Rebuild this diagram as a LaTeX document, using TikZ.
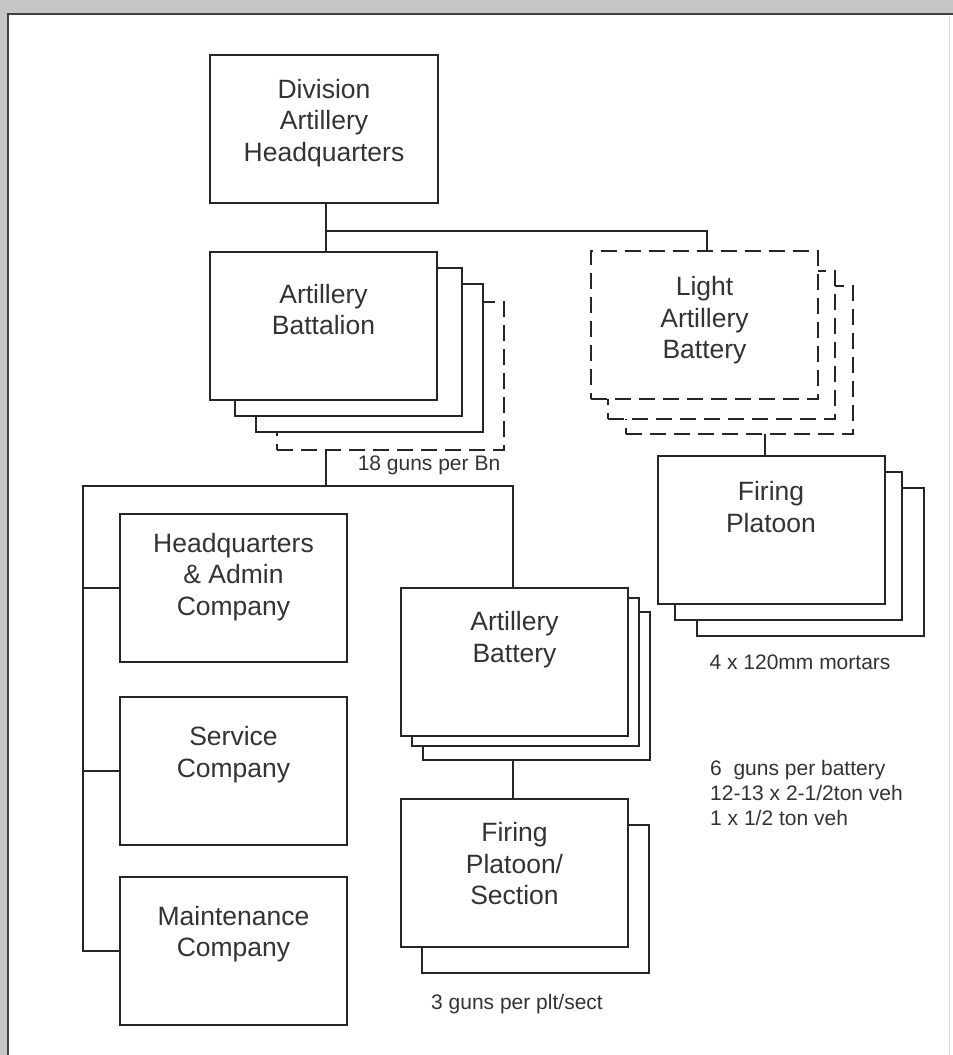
\documentclass[tikz,border=0pt]{standalone}
\usepackage{fontspec}
\setmainfont{Liberation Sans}
\begin{document}
\begin{tikzpicture}[x=1pt,y=-1pt,
  box/.style={draw=black!85,line width=2pt,fill=white,minimum width=227pt,minimum height=148pt,inner sep=0pt,outer sep=0pt},
  dbox/.style={box,dash pattern=on 16pt off 8pt},
  lbl/.style={anchor=north,align=center,inner sep=0pt,font=\fontsize{26.5}{31.5}\selectfont,text=black!80},
  note/.style={inner sep=0pt,font=\fontsize{21}{25}\selectfont,text=black!80},
  conn/.style={draw=black!85,line width=2pt}]
\useasboundingbox (0,0) rectangle (953,1055);
% page frame
\fill[gray!45] (0,0) rectangle (953,1055);
\fill[white] (8,14) rectangle (953,1055);
\draw[black!75,line width=2.5pt] (8,1055) -- (8,14) -- (953,14);
\draw[gray!25,line width=0.8pt] (949,16) -- (949,1055);

% Division HQ
\node[box,minimum width=228pt] (div) at (324,129) {};
\node[lbl,yshift=-24pt] (divT) at (div.north) {Division\\Artillery\\Headquarters};

% Artillery Battalion stack
\node[dbox] (bn4) at (390.5,375.5) {};
\node[box] (bn3) at (369,357.5) {};
\node[box] (bn2) at (348,341.5) {};
\node[box] (bn1) at (323.5,326) {};
\node[lbl,yshift=-32pt] (bnT) at (bn1.north) {Artillery\\Battalion};

% Light Artillery Battery stack
\node[dbox] (lab3) at (739.5,359.5) {};
\node[dbox] (lab2) at (721.5,345) {};
\node[dbox] (lab1) at (704.5,324.5) {};
\node[lbl,yshift=-26pt] (labT) at (lab1.north) {Light\\Artillery\\Battery};

% Firing Platoon stack (mortars)
\node[box] (fp3) at (810,561.5) {};
\node[box] (fp2) at (788.5,545.5) {};
\node[box] (fp1) at (771,529.5) {};
\node[lbl,yshift=-26pt] (fpT) at (fp1.north) {Firing\\Platoon};

% Artillery Battery stack
\node[box] (ab3) at (536.5,685.5) {};
\node[box] (ab2) at (525,671.5) {};
\node[box] (ab1) at (514.5,661.5) {};
\node[lbl,yshift=-24pt] (abT) at (ab1.north) {Artillery\\Battery};

% Firing Platoon/Section stack
\node[box] (fps2) at (535.5,898.5) {};
\node[box] (fps1) at (514.5,872.5) {};
\node[lbl,yshift=-24pt] (fpsT) at (fps1.north) {Firing\\Platoon/\\Section};

% Left column
\node[box] (hq) at (233.5,588) {};
\node[lbl,yshift=-19pt] (hqT) at (hq.north) {Headquarters\\\& Admin\\Company};
\node[box] (svc) at (233.5,770.5) {};
\node[lbl,yshift=-30pt] (svcT) at (svc.north) {Service\\Company};
\node[box] (mnt) at (233.5,951) {};
\node[lbl,yshift=-29pt] (mntT) at (mnt.north) {Maintenance\\Company};

% connectors
\coordinate (j1) at (326,231);
\coordinate (bus) at (83,486);
\draw[conn] ([xshift=2pt]div.south) -- ([xshift=2pt]div.south |- bn1.north);
\draw[conn] (j1) -| ([xshift=2.5pt]lab1.north);
\draw[conn] ([xshift=-6pt]fp1.north) -- ([xshift=-6pt]fp1.north |- lab3.south);
\draw[conn] ([xshift=2.5pt]bn1.south |- bn4.south) -- ([xshift=2.5pt]bn1.south |- bus);
\draw[conn] ([xshift=-1.5pt]ab1.north) |- (bus) -- (bus |- mnt.west) -- (mnt.west);
\draw[conn] (bus |- hq.west) -- (hq.west);
\draw[conn] (bus |- svc.west) -- (svc.west);
\draw[conn] ([xshift=-1.5pt]fps1.north) -- ([xshift=-1.5pt]fps1.north |- ab3.south);

% notes
\node[note] (n1) at (429,465) {18 guns per Bn};
\node[note] (n2) at (800,662) {4 x 120mm mortars};
\node[note,anchor=north west,align=left] (n3) at (710,760) {6\ \ guns per battery\\12-13 x 2-1/2ton veh\\1 x 1/2 ton veh};
\node[note] (n4) at (517,1004) {3 guns per plt/sect};
\end{tikzpicture}
\end{document}
